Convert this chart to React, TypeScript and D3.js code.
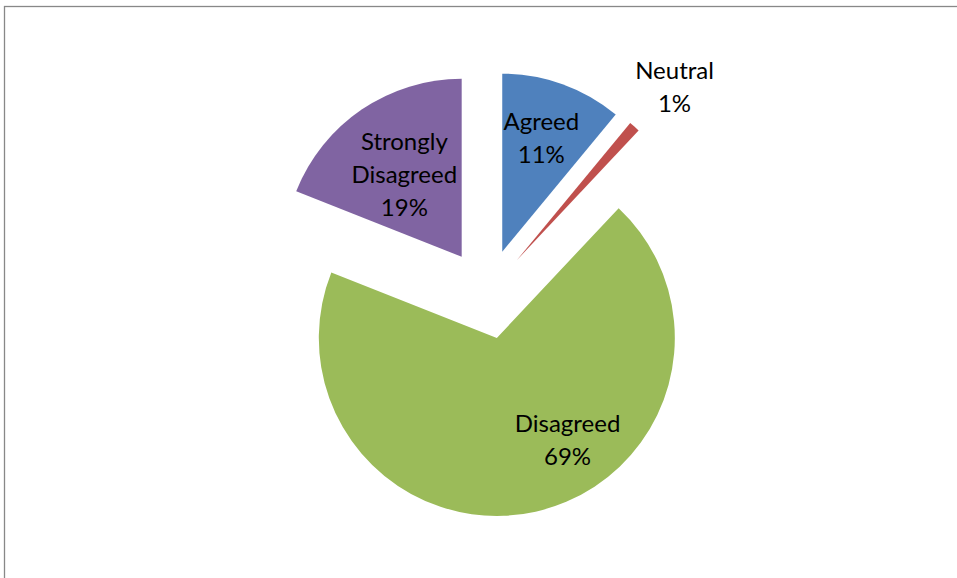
import React from "react";
import * as d3 from "d3";

const categories = ["Agreed", "Neutral", "Disagreed", "Strongly Disagreed"];
const values = [11, 1, 69, 19];
const percentLabels = ["11%", "1%", "69%", "19%"];
const labelLines = [["Agreed"], ["Neutral"], ["Disagreed"], ["Strongly", "Disagreed"]];
const colors = ["#4F81BD", "#C0504D", "#9BBB59", "#8064A2"];
// label placement: angle (deg, clockwise from 12 o'clock) and distance from slice apex
const labelAngles = [19, 42.4, 145.2, 325];
const labelDist = [120, 234, 124, 100];

const W = 957;
const H = 578;
const cx = 487;
const cy = 294;
const R = 178;
const explode = 45;
const fontSize = 24;
const lineH = 33;
const capH = 17;

export default function App() {
  const pie = d3.pie<number>().sort(null).value((d) => d)(values);
  const arc = d3.arc<d3.PieArcDatum<number>>().innerRadius(0).outerRadius(R);

  return (
    <svg
      width={W}
      height={H}
      style={{ position: "absolute", left: 0, top: 0, background: "#fff" }}
      fontFamily="Lato, 'Noto Sans', sans-serif"
    >
      <rect x={4.5} y={6.5} width={W + 20} height={H + 20} fill="#fff" stroke="#888" strokeWidth={1.3} />
      {pie.map((p, i) => {
        const mid = (p.startAngle + p.endAngle) / 2;
        const ox = cx + Math.sin(mid) * explode;
        const oy = cy - Math.cos(mid) * explode;
        const la = (labelAngles[i] * Math.PI) / 180;
        const lx = ox + Math.sin(la) * labelDist[i];
        const ly = oy - Math.cos(la) * labelDist[i];
        const lines = [...labelLines[i], percentLabels[i]];
        const firstBase = ly - ((lines.length - 1) * lineH) / 2 + capH / 2;
        return (
          <g key={categories[i]}>
            <path d={arc(p) || ""} transform={`translate(${ox},${oy})`} fill={colors[i]} />
            <text textAnchor="middle" fontSize={fontSize} fill="#000">
              {lines.map((t, j) => (
                <tspan key={j} x={lx} y={firstBase + j * lineH}>
                  {t}
                </tspan>
              ))}
            </text>
          </g>
        );
      })}
    </svg>
  );
}
